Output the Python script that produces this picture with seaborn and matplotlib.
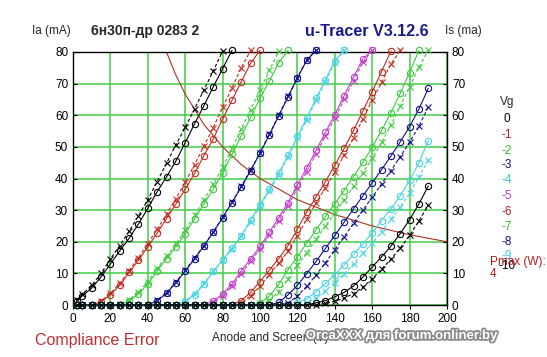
import numpy as np
import pandas as pd
import seaborn as sns
import matplotlib
matplotlib.use('Agg')
import matplotlib.pyplot as plt
import matplotlib.patheffects as pe

# sweep voltages (V)
volts = [2, 5, 10, 15, 20, 25, 30, 35, 40, 45, 50, 55, 60, 65, 70, 75, 80, 85, 90, 95,
         100, 105, 110, 115, 120, 125, 130, 135, 140, 145, 150, 155, 160, 165, 170, 175,
         180, 185, 190]

# anode current, section 1 (mA), one list per grid voltage
ia_g0 = [1.2, 2.9, 5.3, 8.9, 13.0, 17.1, 21.1, 25.6, 30.6, 35.8, 40.5, 45.5, 51.3, 57.3, 63.0, 69.0, 74.7, 80.5]
ia_g1 = [0, 0, 0, 1.0, 3.3, 6.2, 10.3, 14.2, 18.4, 22.7, 27.3, 31.9, 36.6, 41.6, 47.2, 52.5, 58.8, 64.7, 70.6, 76.5, 80.5]
ia_g2 = [0] * 6 + [1.2, 3.5, 6.6, 10.8, 14.6, 18.3, 22.6, 27.2, 32.0, 36.6, 41.8, 47.6, 53.5, 59.3, 65.5, 70.8, 76.6, 80.5]
ia_g3 = [0] * 9 + [1.3, 3.7, 7.0, 10.7, 14.6, 18.7, 23.0, 27.6, 32.4, 37.3, 42.5, 48.0, 53.8, 59.8, 65.8, 71.8, 77.4, 80.5]
ia_g4 = [0] * 12 + [1.0, 3.3, 6.5, 10.6, 14.3, 18.0, 21.9, 26.9, 31.7, 36.6, 41.7, 47.3, 53.3, 59.2, 65.3, 71.2, 77.3, 80.5]
ia_g5 = [0] * 15 + [1.2, 3.5, 6.6, 10.8, 14.6, 18.5, 23.0, 27.6, 32.4, 38.0, 43.3, 48.9, 54.6, 60.2, 66.2, 72.1, 77.8, 80.5]
ia_g6 = [0] * 18 + [1.4, 4.0, 7.4, 11.0, 14.7, 18.8, 24.0, 29.4, 34.2, 39.0, 44.2, 49.5, 55.2, 61.3, 67.5, 73.8, 80.3]
ia_g7 = [0] * 20 + [0.6, 2.8, 6.5, 11.2, 15.2, 19.6, 23.8, 28.0, 32.0, 36.2, 40.6, 45.1, 49.9, 55.2, 60.8, 67.0, 73.5, 80.5]
ia_g8 = [0] * 22 + [0.8, 3.2, 6.2, 9.9, 13.8, 17.9, 22.0, 26.2, 30.4, 34.5, 38.6, 42.8, 47.1, 51.6, 56.4, 62.0, 68.5]
ia_g9 = [0] * 24 + [0.5, 2.0, 4.2, 6.8, 9.6, 12.7, 16.0, 19.3, 22.8, 26.7, 30.4, 34.6, 39.4, 45.0, 52.0]
ia_g10 = [0] * 26 + [0.7, 1.4, 2.6, 4.0, 6.0, 8.8, 12.0, 15.2, 18.6, 22.6, 27.0, 32.0, 37.6]

# anode current, section 2 (mA)
is_g0 = [1.6, 3.4, 6.2, 10.0, 14.5, 18.8, 23.3, 28.2, 33.3, 39.0, 44.8, 50.6, 56.2, 62.0, 68.0, 74.0, 80.3]
is_g1 = [0, 0, 0, 1.2, 3.7, 6.8, 10.9, 15.0, 19.4, 24.0, 28.7, 33.6, 38.8, 44.4, 50.2, 56.1, 62.5, 68.6, 75.0, 80.5]
is_g2 = [0] * 5 + [0.2, 1.7, 4.1, 7.4, 11.6, 15.4, 19.2, 23.6, 28.4, 33.2, 38.2, 43.6, 49.5, 55.6, 61.8, 68.0, 74.2, 80.3]
is_g3 = [0] * 9 + [1.5, 3.9, 7.2, 11.0, 14.8, 18.8, 23.1, 27.7, 32.5, 37.5, 42.7, 48.2, 54.0, 60.0, 66.0, 71.9, 77.6, 80.5]
is_g4 = [0] * 11 + [0.1, 1.3, 3.6, 6.8, 10.6, 14.1, 17.6, 21.8, 26.4, 31.2, 36.0, 41.2, 46.8, 52.7, 58.6, 64.7, 70.6, 76.6, 80.5]
is_g5 = [0] * 15 + [0.8, 2.9, 5.9, 9.9, 13.8, 17.7, 22.1, 26.7, 31.4, 36.9, 42.2, 47.8, 53.5, 59.0, 65.0, 70.9, 76.7, 80.5]
is_g6 = [0] * 18 + [0.6, 2.9, 6.0, 9.6, 13.2, 17.1, 21.9, 27.2, 32.3, 37.0, 42.1, 47.4, 52.9, 58.8, 64.7, 70.4, 76.2, 80.5]
is_g7 = [0] * 20 + [0.1, 1.4, 4.2, 8.2, 12.6, 16.5, 20.8, 25.0, 29.2, 33.2, 37.5, 41.8, 46.4, 51.4, 56.8, 62.8, 69.0, 75.2, 80.5]
is_g8 = [0] * 23 + [0.6, 2.9, 5.9, 9.5, 13.4, 17.5, 21.6, 25.8, 30.0, 34.1, 38.3, 42.5, 46.9, 51.5, 56.5, 62.7]
is_g9 = [0] * 25 + [0.6, 2.2, 4.5, 7.1, 9.9, 13.0, 16.3, 19.6, 23.2, 27.1, 31.0, 35.3, 40.5, 45.8]
is_g10 = [0] * 27 + [0.5, 1.2, 2.2, 3.6, 5.6, 8.3, 11.3, 14.5, 18.0, 22.0, 26.6, 31.6]

# max dissipation line (4 W)
pmax_v = [50, 55, 60, 70, 80, 90, 100, 120, 140, 160, 180, 200]
pmax_i = [80, 72.7, 66.7, 57.1, 50, 44.4, 40, 33.3, 28.6, 25, 22.2, 20]

grid_v = ['0', '-1', '-2', '-3', '-4', '-5', '-6', '-7', '-8', '-9', '-10']
ia_all = [ia_g0, ia_g1, ia_g2, ia_g3, ia_g4, ia_g5, ia_g6, ia_g7, ia_g8, ia_g9, ia_g10]
is_all = [is_g0, is_g1, is_g2, is_g3, is_g4, is_g5, is_g6, is_g7, is_g8, is_g9, is_g10]

BLACK, RED, GREEN, NAVY, CYAN, MAG = '#000000', '#c42a1e', '#3ccc3c', '#101088', '#48d4e4', '#c23ec8'
curve_colors = [BLACK, RED, GREEN, NAVY, CYAN, MAG, RED, GREEN, NAVY, CYAN, BLACK]
text_colors = [BLACK, '#a82020', '#33b833', NAVY, '#40c4dc', '#b83cbc', '#a82020', '#33b833', NAVY, '#40c4dc', BLACK]

sns.set_style('white')
plt.rcParams['font.family'] = ['Liberation Sans', 'DejaVu Sans']

W, H = 547, 357
fig = plt.figure(figsize=(W / 100, H / 100), dpi=100)
ax = fig.add_axes([73 / W, 1 - 305 / H, 374 / W, 253 / H])

for ia, is_, col in zip(ia_all, is_all, curve_colors):
    df_a = pd.DataFrame({'V': volts[:len(ia)], 'I': ia})
    df_s = pd.DataFrame({'V': volts[:len(is_)], 'I': is_})
    sns.lineplot(data=df_a, x='V', y='I', ax=ax, color=col, lw=0.8, marker='o',
                 markersize=4.5, markerfacecolor='none', markeredgecolor=col,
                 markeredgewidth=0.8, clip_on=False, zorder=3)
    sns.lineplot(data=df_s, x='V', y='I', ax=ax, color=col, lw=0.8, linestyle=(0, (3, 2)),
                 marker='x', markersize=4, markeredgecolor=col, markeredgewidth=0.8,
                 clip_on=False, zorder=3)

sns.lineplot(x=pmax_v, y=pmax_i, ax=ax, color='#b03020', lw=0.8, zorder=2)

ax.set_xlim(0, 200)
ax.set_ylim(0, 80)
ax.set_xticks(range(0, 201, 20))
ax.set_yticks(range(0, 81, 10))
ax.grid(True, color='#44cc44', lw=1.1)
ax.set_axisbelow(True)
for s in ax.spines.values():
    s.set_color('black')
    s.set_linewidth(1)
ax.tick_params(axis='both', labelsize=8.5, colors='black', length=3, width=0.8)
ax.tick_params(axis='y', left=True, right=True, labelright=True, direction='in')
ax.tick_params(axis='x', bottom=True, direction='out', pad=3)
ax.set_xlabel('')
ax.set_ylabel('')


def ftext(x, y, s, **kw):
    fig.text(x / W, 1 - y / H, s, **kw)


ftext(32, 31, 'Ia (mA)', fontsize=8.5, va='center', ha='left')
ftext(91, 31, '6н30п-др 0283 2', fontsize=10, fontweight='bold', va='center', ha='left')
ftext(305, 31, 'u-Tracer V3.12.6', fontsize=11.6, fontweight='bold', color='#1a1a8c', va='center', ha='left')
ftext(445, 31, 'Is (ma)', fontsize=8.5, va='center', ha='left')
ftext(270, 338, 'Anode and Screen (V)', fontsize=8.5, va='center', ha='center')
ftext(35, 341, 'Compliance Error', fontsize=11.5, color='#c03030', va='center', ha='left')
ftext(402, 336, 'OrcaXXX для forum.onliner.by', fontsize=9.5, fontweight='bold', color='white',
      va='center', ha='center',
      path_effects=[pe.withStroke(linewidth=2.5, foreground='#8a8a8a')])

# grid-voltage key on the right (the last entry sits under the Pmax note, as in the original)
ftext(507, 102, 'Vg', fontsize=8.5, va='center', ha='center')
legend_y = [119, 135, 151, 165, 180, 196, 212, 227, 242, 256, 266]
for lab, c, yy in zip(grid_v, text_colors, legend_y):
    ftext(507, yy, lab, fontsize=8.5, color=c, va='center', ha='center')
ftext(490, 262, 'Pmax (W):', fontsize=8.5, color='#a82020', va='center', ha='left')
ftext(490, 274, '4', fontsize=8.5, color='#a82020', va='center', ha='left')

fig.savefig('out.png', dpi=100)
